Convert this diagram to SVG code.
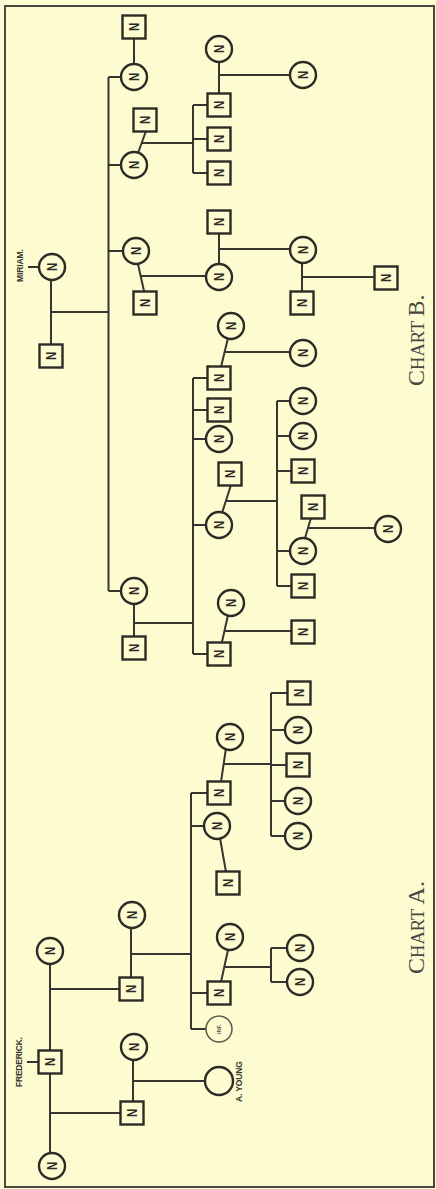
<svg xmlns="http://www.w3.org/2000/svg" width="436" height="1189" viewBox="0 0 436 1189">
<style>
.bg{fill:#fdfcd1}
.frame{fill:none;stroke:#4a4640;stroke-width:2}
.con{fill:none;stroke:#38342f;stroke-width:2}
.c{fill:#fdfcd1;stroke:#2e2a26;stroke-width:2.4}
.s{fill:#fdfcd1;stroke:#2e2a26;stroke-width:2.4}
.n{font-family:"Liberation Sans",Arial,sans-serif;font-weight:bold;font-size:14.5px;fill:#2e2a26;text-anchor:middle}
.lab{font-family:"Liberation Sans",Arial,sans-serif;font-weight:bold;font-size:8.5px;fill:#3a3631;text-anchor:middle}
.chart{font-family:"Liberation Serif","Times New Roman",serif;fill:#4a4640;text-anchor:start}
.inf{font-family:"Liberation Sans",Arial,sans-serif;font-weight:bold;font-size:5.5px;fill:#5a5650;text-anchor:middle}
</style>
<rect class="bg" x="0" y="0" width="436" height="1189"/>
<rect class="frame" x="5" y="6" width="429" height="1181"/>

<g id="connectors">
<path class="con" d="M28 267H40 M51 267V356 M51 312H108.5 M108.5 77V591 M108.5 77H134 M108.5 165H134 M108.5 251H136 M108.5 591H134 M134 27V77 M138 153L146 131 M142 143H193 M193 105V173 M193 105H219 M193 139H219 M193 173H219 M219 49V105 M219 75H303 M138 264L144 291 M141 276H219 M219 222V277 M219 249H303 M302 250V303 M302 277H386 M134 591V648 M134 623H193 M193 378V654 M193 378H219 M193 410H219 M193 439H219 M193 525H219 M193 654H219 M228 338L221 367 M225 352H303 M231 485L222 513 M226 501H277 M277 401V586 M277 401H303 M277 436H303 M277 471H303 M277 551H303 M277 586H303 M305 538L311 518 M308 528H388 M228 615L222 642 M225 631H303"/>
<path class="con" d="M27 1062H38 M50 951V1166 M50 989H131 M131 915V989 M131 954H191 M191 793V1029 M191 793H219 M191 826H217 M191 993H219 M191 1029H219 M226 748L221 782 M224 764H271 M271 693V836 M271 693H298 M271 730H298 M271 765H298 M271 801H298 M271 836H298 M220 838L226 872 M228 950L221 982 M224 967H271 M271 948V982 M271 948H300 M271 982H300 M50 1113H132 M133 1047V1113 M133 1081H219"/>
</g>

<!-- Chart B -->
<g id="b-miriam"><circle class="c" cx="52" cy="267" r="13"/><text class="n" transform="translate(57.3,267) rotate(-90) scale(0.78,1)">N</text><text class="lab" textLength="33" transform="translate(23,265.5) rotate(-90)">MIRIAM.</text></g>
<g id="b-husband"><rect class="s" x="39.5" y="344.5" width="23" height="23"/><text class="n" transform="translate(56.3,356) rotate(-90) scale(0.78,1)">N</text></g>
<g id="b3"><circle class="c" cx="134" cy="77" r="13"/><text class="n" transform="translate(139.3,77) rotate(-90) scale(0.78,1)">N</text></g>
<g id="b4"><rect class="s" x="122.5" y="15.5" width="23" height="23"/><text class="n" transform="translate(139.3,27) rotate(-90) scale(0.78,1)">N</text></g>
<g id="b5"><circle class="c" cx="134" cy="165" r="13"/><text class="n" transform="translate(139.3,165) rotate(-90) scale(0.78,1)">N</text></g>
<g id="b6"><rect class="s" x="133.5" y="108.5" width="23" height="23"/><text class="n" transform="translate(150.3,120) rotate(-90) scale(0.78,1)">N</text></g>
<g id="b7"><rect class="s" x="207.5" y="93.5" width="23" height="23"/><text class="n" transform="translate(224.3,105) rotate(-90) scale(0.78,1)">N</text></g>
<g id="b8"><circle class="c" cx="219" cy="49" r="13"/><text class="n" transform="translate(224.3,49) rotate(-90) scale(0.78,1)">N</text></g>
<g id="b9"><circle class="c" cx="303" cy="75" r="13"/><text class="n" transform="translate(308.3,75) rotate(-90) scale(0.78,1)">N</text></g>
<g id="b10"><rect class="s" x="207.5" y="127.5" width="23" height="23"/><text class="n" transform="translate(224.3,139) rotate(-90) scale(0.78,1)">N</text></g>
<g id="b11"><rect class="s" x="207.5" y="161.5" width="23" height="23"/><text class="n" transform="translate(224.3,173) rotate(-90) scale(0.78,1)">N</text></g>
<g id="b12"><circle class="c" cx="136" cy="251" r="13"/><text class="n" transform="translate(141.3,251) rotate(-90) scale(0.78,1)">N</text></g>
<g id="b13"><rect class="s" x="133.5" y="291.5" width="23" height="23"/><text class="n" transform="translate(150.3,303) rotate(-90) scale(0.78,1)">N</text></g>
<g id="b14"><circle class="c" cx="219" cy="277" r="13"/><text class="n" transform="translate(224.3,277) rotate(-90) scale(0.78,1)">N</text></g>
<g id="b15"><rect class="s" x="207.5" y="210.5" width="23" height="23"/><text class="n" transform="translate(224.3,222) rotate(-90) scale(0.78,1)">N</text></g>
<g id="b16"><circle class="c" cx="303" cy="250" r="13"/><text class="n" transform="translate(308.3,250) rotate(-90) scale(0.78,1)">N</text></g>
<g id="b17"><rect class="s" x="290.5" y="291.5" width="23" height="23"/><text class="n" transform="translate(307.3,303) rotate(-90) scale(0.78,1)">N</text></g>
<g id="b18"><rect class="s" x="374.5" y="266.5" width="23" height="23"/><text class="n" transform="translate(391.3,278) rotate(-90) scale(0.78,1)">N</text></g>
<g id="b19"><circle class="c" cx="134" cy="591" r="13"/><text class="n" transform="translate(139.3,591) rotate(-90) scale(0.78,1)">N</text></g>
<g id="b20"><rect class="s" x="122.5" y="636.5" width="23" height="23"/><text class="n" transform="translate(139.3,648) rotate(-90) scale(0.78,1)">N</text></g>
<g id="b21"><rect class="s" x="207.5" y="366.5" width="23" height="23"/><text class="n" transform="translate(224.3,378) rotate(-90) scale(0.78,1)">N</text></g>
<g id="b22"><circle class="c" cx="231" cy="326" r="13"/><text class="n" transform="translate(236.3,326) rotate(-90) scale(0.78,1)">N</text></g>
<g id="b23"><circle class="c" cx="303" cy="353" r="13"/><text class="n" transform="translate(308.3,353) rotate(-90) scale(0.78,1)">N</text></g>
<g id="b24"><rect class="s" x="207.5" y="398.5" width="23" height="23"/><text class="n" transform="translate(224.3,410) rotate(-90) scale(0.78,1)">N</text></g>
<g id="b25"><circle class="c" cx="219" cy="439" r="13"/><text class="n" transform="translate(224.3,439) rotate(-90) scale(0.78,1)">N</text></g>
<g id="b26"><circle class="c" cx="219" cy="525" r="13"/><text class="n" transform="translate(224.3,525) rotate(-90) scale(0.78,1)">N</text></g>
<g id="b27"><rect class="s" x="218.5" y="462.5" width="23" height="23"/><text class="n" transform="translate(235.3,474) rotate(-90) scale(0.78,1)">N</text></g>
<g id="b28"><circle class="c" cx="303" cy="401" r="13"/><text class="n" transform="translate(308.3,401) rotate(-90) scale(0.78,1)">N</text></g>
<g id="b29"><circle class="c" cx="303" cy="436" r="13"/><text class="n" transform="translate(308.3,436) rotate(-90) scale(0.78,1)">N</text></g>
<g id="b30"><rect class="s" x="291.5" y="459.5" width="23" height="23"/><text class="n" transform="translate(308.3,471) rotate(-90) scale(0.78,1)">N</text></g>
<g id="b31"><circle class="c" cx="303" cy="551" r="13"/><text class="n" transform="translate(308.3,551) rotate(-90) scale(0.78,1)">N</text></g>
<g id="b32"><rect class="s" x="301.5" y="495.5" width="23" height="23"/><text class="n" transform="translate(318.3,507) rotate(-90) scale(0.78,1)">N</text></g>
<g id="b33"><circle class="c" cx="388" cy="529" r="13"/><text class="n" transform="translate(393.3,529) rotate(-90) scale(0.78,1)">N</text></g>
<g id="b34"><rect class="s" x="291.5" y="574.5" width="23" height="23"/><text class="n" transform="translate(308.3,586) rotate(-90) scale(0.78,1)">N</text></g>
<g id="b35"><rect class="s" x="207.5" y="642.5" width="23" height="23"/><text class="n" transform="translate(224.3,654) rotate(-90) scale(0.78,1)">N</text></g>
<g id="b36"><circle class="c" cx="231" cy="603" r="13"/><text class="n" transform="translate(236.3,603) rotate(-90) scale(0.78,1)">N</text></g>
<g id="b37"><rect class="s" x="291.5" y="620.5" width="23" height="23"/><text class="n" transform="translate(308.3,632) rotate(-90) scale(0.78,1)">N</text></g>

<!-- Chart A -->
<g id="a-frederick"><rect class="s" x="38.5" y="1050.5" width="23" height="23"/><text class="n" transform="translate(55.3,1062) rotate(-90) scale(0.78,1)">N</text><text class="lab" textLength="50" transform="translate(22,1062) rotate(-90)">FREDERICK.</text></g>
<g id="a2"><circle class="c" cx="50" cy="951" r="13"/><text class="n" transform="translate(55.3,951) rotate(-90) scale(0.78,1)">N</text></g>
<g id="a3"><circle class="c" cx="52" cy="1166" r="13"/><text class="n" transform="translate(57.3,1166) rotate(-90) scale(0.78,1)">N</text></g>
<g id="a4"><rect class="s" x="119.5" y="977.5" width="23" height="23"/><text class="n" transform="translate(136.3,989) rotate(-90) scale(0.78,1)">N</text></g>
<g id="a5"><circle class="c" cx="132" cy="915" r="13"/><text class="n" transform="translate(137.3,915) rotate(-90) scale(0.78,1)">N</text></g>
<g id="a6"><rect class="s" x="120.5" y="1101.5" width="23" height="23"/><text class="n" transform="translate(137.3,1113) rotate(-90) scale(0.78,1)">N</text></g>
<g id="a7"><circle class="c" cx="134" cy="1047" r="13"/><text class="n" transform="translate(139.3,1047) rotate(-90) scale(0.78,1)">N</text></g>
<g id="a8"><circle class="c" cx="219" cy="1081" r="14"/><text class="lab" textLength="41" transform="translate(242,1081.5) rotate(-90)">A. YOUNG</text></g>
<g id="a9"><rect class="s" x="207.5" y="781.5" width="23" height="23"/><text class="n" transform="translate(224.3,793) rotate(-90) scale(0.78,1)">N</text></g>
<g id="a10"><circle class="c" cx="230" cy="737" r="13"/><text class="n" transform="translate(235.3,737) rotate(-90) scale(0.78,1)">N</text></g>
<g id="a11"><rect class="s" x="287.5" y="681.5" width="23" height="23"/><text class="n" transform="translate(304.3,693) rotate(-90) scale(0.78,1)">N</text></g>
<g id="a12"><circle class="c" cx="298" cy="730" r="13"/><text class="n" transform="translate(303.3,730) rotate(-90) scale(0.78,1)">N</text></g>
<g id="a13"><rect class="s" x="286.5" y="753.5" width="23" height="23"/><text class="n" transform="translate(303.3,765) rotate(-90) scale(0.78,1)">N</text></g>
<g id="a14"><circle class="c" cx="298" cy="801" r="13"/><text class="n" transform="translate(303.3,801) rotate(-90) scale(0.78,1)">N</text></g>
<g id="a15"><circle class="c" cx="298" cy="836" r="13"/><text class="n" transform="translate(303.3,836) rotate(-90) scale(0.78,1)">N</text></g>
<g id="a16"><circle class="c" cx="217" cy="826" r="13"/><text class="n" transform="translate(222.3,826) rotate(-90) scale(0.78,1)">N</text></g>
<g id="a17"><rect class="s" x="216.5" y="871.5" width="23" height="23"/><text class="n" transform="translate(233.3,883) rotate(-90) scale(0.78,1)">N</text></g>
<g id="a18"><rect class="s" x="207.5" y="981.5" width="23" height="23"/><text class="n" transform="translate(224.3,993) rotate(-90) scale(0.78,1)">N</text></g>
<g id="a19"><circle class="c" cx="230" cy="937" r="13"/><text class="n" transform="translate(235.3,937) rotate(-90) scale(0.78,1)">N</text></g>
<g id="a20"><circle class="c" cx="300" cy="948" r="13"/><text class="n" transform="translate(305.3,948) rotate(-90) scale(0.78,1)">N</text></g>
<g id="a21"><circle class="c" cx="300" cy="982" r="13"/><text class="n" transform="translate(305.3,982) rotate(-90) scale(0.78,1)">N</text></g>
<g id="a22"><circle class="c" cx="219" cy="1029" r="13" style="stroke-width:1.5;stroke:#5a5650"/><text class="inf" transform="translate(221,1029) rotate(-90)">INF.</text></g>

<g id="labels">
<text class="chart" transform="translate(424,386) rotate(-90)"><tspan font-size="24">C</tspan><tspan font-size="18.5">HART </tspan><tspan font-size="24">B.</tspan></text>
<text class="chart" transform="translate(424,974) rotate(-90)"><tspan font-size="24">C</tspan><tspan font-size="18.5">HART </tspan><tspan font-size="24">A.</tspan></text>
</g>
</svg>
